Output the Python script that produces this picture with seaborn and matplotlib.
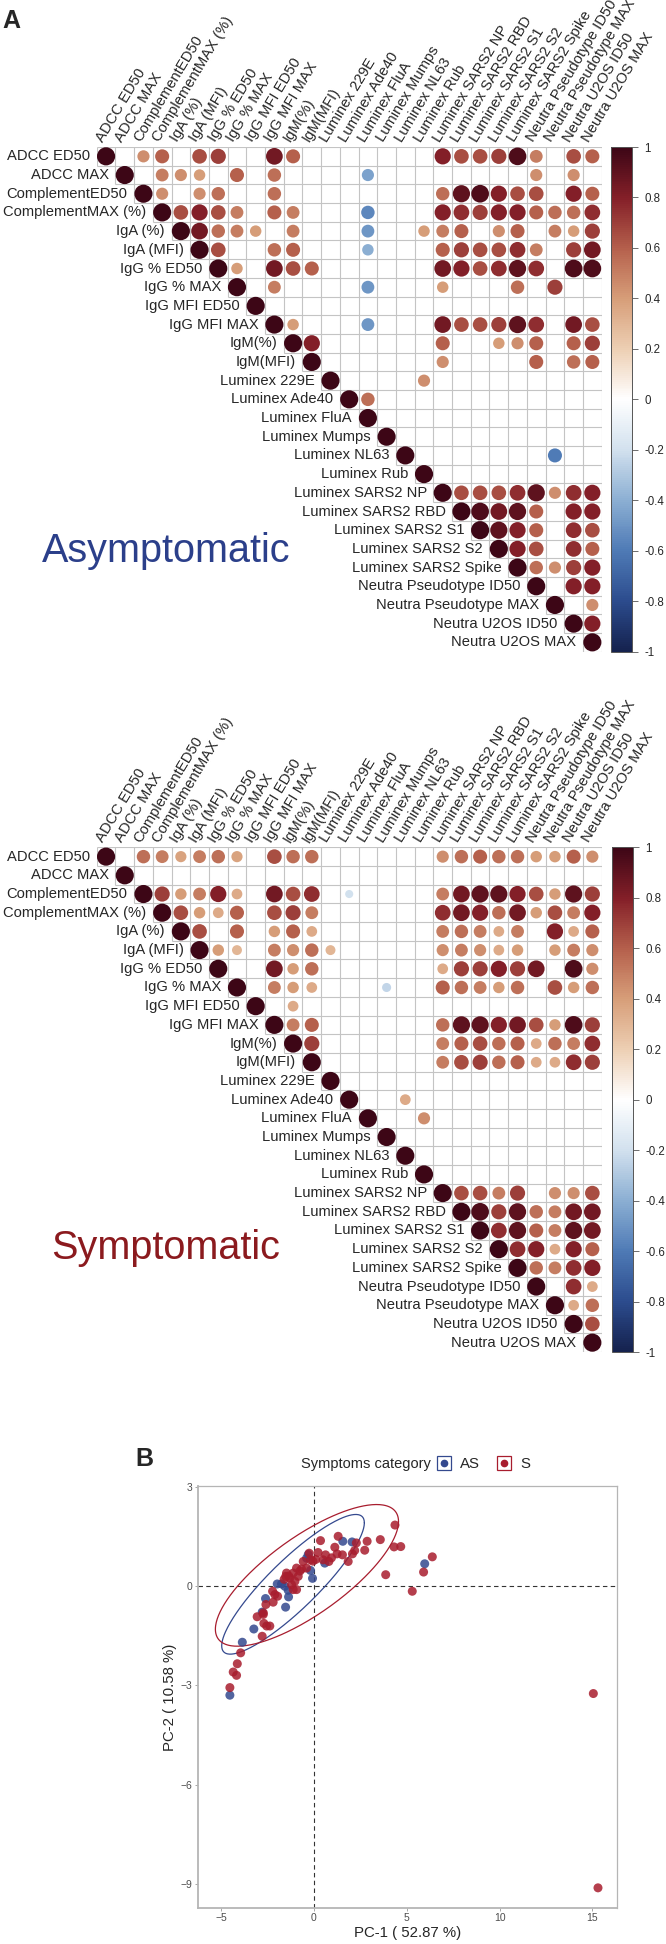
import numpy as np
import pandas as pd
import matplotlib
matplotlib.use("Agg")
import matplotlib.pyplot as plt
import seaborn as sns
from matplotlib.colors import LinearSegmentedColormap, Normalize
from matplotlib.cm import ScalarMappable
from matplotlib.lines import Line2D

# ---------------- data ----------------
VARIABLES = ["ADCC ED50", "ADCC MAX", "ComplementED50", "ComplementMAX (%)",
             "IgA (%)", "IgA (MFI)", "IgG % ED50", "IgG % MAX", "IgG MFI ED50",
             "IgG MFI MAX", "IgM(%)", "IgM(MFI)", "Luminex 229E", "Luminex Ade40",
             "Luminex FluA", "Luminex Mumps", "Luminex NL63", "Luminex Rub",
             "Luminex SARS2 NP", "Luminex SARS2 RBD", "Luminex SARS2 S1",
             "Luminex SARS2 S2", "Luminex SARS2 Spike", "Neutra Pseudotype ID50",
             "Neutra Pseudotype MAX", "Neutra U2OS ID50", "Neutra U2OS MAX"]

# Asymptomatic: significant upper-triangle correlations, per row (column index, r)
AS_COLS = [
    [2, 3, 5, 6, 9, 10, 18, 19, 20, 21, 22, 23, 25, 26],
    [3, 4, 5, 7, 9, 14, 23, 25],
    [3, 5, 6, 9, 18, 19, 20, 21, 22, 23, 25, 26],
    [4, 5, 6, 7, 9, 10, 14, 18, 19, 20, 21, 22, 23, 24, 25, 26],
    [5, 6, 7, 8, 10, 14, 17, 18, 19, 21, 22, 24, 25, 26],
    [6, 9, 10, 14, 18, 19, 20, 21, 22, 23, 25, 26],
    [7, 9, 10, 11, 18, 19, 20, 21, 22, 23, 25, 26],
    [9, 14, 18, 22, 24],
    [],
    [10, 14, 18, 19, 20, 21, 22, 23, 25, 26],
    [11, 18, 21, 22, 23, 25, 26],
    [18, 23, 25, 26],
    [17],
    [14],
    [],
    [],
    [24],
    [],
    [19, 20, 21, 22, 23, 24, 25, 26],
    [20, 21, 22, 23, 25, 26],
    [21, 22, 23, 25, 26],
    [22, 23, 25, 26],
    [23, 24, 25, 26],
    [25, 26],
    [26],
    [26],
    [],
]
AS_VALUES = [
    [.45, .6, .65, .7, .85, .6, .8, .65, .65, .7, .95, .5, .65, .6],
    [.5, .45, .4, .6, .55, -.45, .45, .45],
    [.45, .45, .55, .55, .55, .9, .95, .8, .65, .65, .8, .6],
    [.65, .8, .65, .5, .6, .5, -.55, .8, .75, .7, .8, .8, .6, .55, .55, .75],
    [.85, .55, .5, .4, .5, -.5, .4, .5, .6, .45, .6, .5, .4, .7],
    [.65, .55, .6, -.4, .6, .7, .65, .65, .75, .5, .7, .85],
    [.4, .85, .65, .6, .85, .8, .65, .75, .9, .75, .95, .95],
    [.5, -.5, .4, .55, .7],
    [],
    [.4, -.5, .85, .65, .65, .7, .9, .75, .85, .65],
    [.8, .6, .4, .45, .6, .6, .7],
    [.45, .6, .55, .6],
    [.45],
    [.55],
    [],
    [],
    [-.6],
    [],
    [.65, .65, .65, .75, .9, .45, .75, .8],
    [.95, .85, .9, .6, .8, .8],
    [.9, .8, .6, .75, .65],
    [.8, .65, .75, .6],
    [.55, .45, .7, .8],
    [.8, .8],
    [.45],
    [.8],
    [],
]

# Symptomatic
S_COLS = [
    [2, 3, 4, 5, 6, 7, 9, 10, 11, 18, 19, 20, 21, 22, 23, 24, 25, 26],
    [],
    [3, 4, 5, 6, 7, 9, 10, 11, 13, 18, 19, 20, 21, 22, 23, 24, 25, 26],
    [4, 5, 6, 7, 9, 10, 11, 18, 19, 20, 21, 22, 23, 24, 25, 26],
    [5, 7, 9, 10, 11, 18, 19, 20, 21, 22, 24, 25, 26],
    [6, 7, 9, 10, 11, 12, 18, 19, 20, 21, 22, 24, 25, 26],
    [9, 10, 11, 18, 19, 20, 21, 22, 23, 25, 26],
    [9, 10, 11, 15, 18, 19, 20, 21, 22, 24, 25, 26],
    [10],
    [10, 11, 18, 19, 20, 21, 22, 23, 24, 25, 26],
    [11, 18, 19, 20, 21, 22, 23, 24, 25, 26],
    [18, 19, 20, 21, 22, 23, 24, 25, 26],
    [],
    [16],
    [17],
    [],
    [],
    [],
    [19, 20, 21, 22, 24, 25, 26],
    [20, 21, 22, 23, 24, 25, 26],
    [21, 22, 23, 24, 25, 26],
    [22, 23, 24, 25, 26],
    [23, 24, 25, 26],
    [25, 26],
    [25, 26],
    [26],
    [],
]
S_VALUES = [
    [.55, .5, .38, .5, .55, .38, .65, .55, .55, .45, .55, .6, .55, .55, .4, .4, .6, .45],
    [],
    [.7, .4, .5, .8, .35, .85, .65, .75, -.2, .5, .85, .9, .9, .8, .65, .4, .9, .7],
    [.65, .4, .35, .6, .65, .7, .5, .75, .85, .8, .55, .85, .4, .65, .5, .8],
    [.65, .6, .4, .6, .35, .5, .55, .5, .35, .5, .8, .35, .6],
    [.4, .3, .5, .45, .55, .3, .45, .5, .45, .35, .4, .4, .5, .45],
    [.85, .4, .55, .35, .7, .7, .8, .7, .85, .95, .45],
    [.5, .4, .35, -.25, .6, .55, .5, .4, .55, .65, .4, .55],
    [.35],
    [.5, .6, .55, .9, .9, .8, .85, .65, .4, .95, .7],
    [.7, .5, .6, .65, .55, .6, .35, .55, .5, .75],
    [.5, .65, .7, .55, .6, .35, .35, .75, .7],
    [],
    [.35],
    [.45],
    [],
    [],
    [],
    [.65, .65, .5, .7, .45, .45, .65],
    [.95, .7, .9, .55, .5, .85, .85],
    [.75, .9, .6, .5, .9, .85],
    [.75, .8, .35, .8, .6],
    [.55, .5, .75, .8],
    [.75, .35],
    [.35, .55],
    [.65],
    [],
]

# PCA scores
PCA_S_X = [4.37, 3.58, 2.87, 2.74, 4.32, 4.68, 6.38, 5.91, 3.87, 5.30, 1.31, 0.36, 1.13,
           1.25, 1.54, 2.08, 2.29, 2.20, 1.85, 0.63, 0.81, 0.50, 0.23, -0.25, -0.18, -0.57,
           -0.39, -0.66, -0.93, -1.11, -1.47, -1.51, -1.29, -0.84, -1.02, -1.20, -0.93, -1.11,
           -2.22, -2.10, -1.95, -2.19, -2.58, -2.72, -3.05, -2.72, -2.69, -2.54, -2.37, -2.78,
           -3.94, -4.12, -4.34, -4.16, -4.52, 15.05, 15.3, -0.05, 0.10, -1.35, -0.75, -1.60, 0.95]
PCA_S_Y = [1.84, 1.40, 1.35, 1.08, 1.18, 1.19, 0.88, 0.42, 0.34, -0.16, 1.50, 1.37, 1.17,
           0.97, 0.94, 0.97, 1.30, 1.07, 0.74, 0.94, 0.74, 0.79, 1.01, 0.99, 0.79, 0.74,
           0.54, 0.51, 0.54, 0.39, 0.39, 0.29, 0.24, 0.29, 0.14, 0.04, -0.11, -0.11,
           -0.16, -0.26, -0.31, -0.49, -0.56, -0.81, -0.93, -0.86, -1.13, -1.21, -1.21, -1.52,
           -2.02, -2.35, -2.60, -2.70, -3.07, -3.25, -9.12, 0.75, 0.80, 0.30, 0.45, 0.20, 0.85]
PCA_AS_X = [1.56, 2.06, -0.39, -0.18, -0.07, -1.97, -1.74, -1.56, -1.38, -1.36, -1.52,
            -2.60, -2.78, -3.23, -3.85, -4.52, 5.97, 0.59, -0.30]
PCA_AS_Y = [1.35, 1.33, 0.84, 0.47, 0.23, 0.06, 0.06, -0.01, -0.13, -0.33, -0.64,
            -0.38, -0.79, -1.30, -1.70, -3.30, 0.67, 0.69, 0.95]

# 95% ellipses: centre, half extents along PC1/PC2, correlation
ELL_AS = dict(cx=-1.12, cy=0.05, a=3.84, b=2.11, rho=0.88)
ELL_S = dict(cx=-0.37, cy=0.32, a=4.93, b=2.14, rho=0.76)

GROUPS = ["AS", "S"]
GROUP_COLORS = {"AS": "#34498E", "S": "#A81D2E"}

# ---------------- style ----------------
sns.set_theme(style="white")
plt.rcParams["font.family"] = ["Liberation Sans", "DejaVu Sans"]

CMAP = LinearSegmentedColormap.from_list("corr", [
    (0.0, "#15224E"), (0.1, "#2C4C8E"), (0.2, "#4F7BB6"), (0.3, "#8CAFD3"),
    (0.4, "#D2E1EE"), (0.5, "#FFFFFF"), (0.6, "#EDCFB3"), (0.7, "#D79E79"),
    (0.8, "#B5604C"), (0.9, "#841F28"), (1.0, "#3D0616")])

W, H = 666, 1944
fig = plt.figure(figsize=(W / 100, H / 100), dpi=100)


def rect(l, t, r, b):
    return [l / W, 1 - b / H, (r - l) / W, (b - t) / H]


N = len(VARIABLES)
CELL_PT = 18.7 * 72 / 100
SMAX = (0.97 * CELL_PT) ** 2
GRID = "#c4c4c4"
LABEL_SIZE = 10.6


def draw_corr(ax, cols, vals):
    rr, cc, vv = [], [], []
    for i in range(N):
        rr.append(i); cc.append(i); vv.append(1.0)
        for j, v in zip(cols[i], vals[i]):
            rr.append(i); cc.append(j); vv.append(v)
    df = pd.DataFrame({"row": rr, "col": cc, "r": vv})
    df["x"] = df["col"] + 0.5
    df["y"] = df["row"] + 0.5
    df["mag"] = df["r"].abs()
    for k in range(N + 1):
        ax.hlines(k, max(k - 1, 0), N, color=GRID, lw=0.8, zorder=1)
        ax.vlines(k, 0, min(k + 1, N), color=GRID, lw=0.8, zorder=1)
    sns.scatterplot(data=df, x="x", y="y", hue="r", size="mag", palette=CMAP,
                    hue_norm=(-1, 1), sizes=(0, SMAX), size_norm=(0, 1),
                    legend=False, edgecolor="none", linewidth=0, ax=ax, zorder=3)
    ax.set_xlim(0, N)
    ax.set_ylim(N, 0)
    ax.axis("off")
    for i, name in enumerate(VARIABLES):
        ax.text(i - 0.35, i + 0.5, name, ha="right", va="center", fontsize=LABEL_SIZE)
        ax.text(i + 0.33, -0.22, name, ha="left", va="baseline", rotation=59,
                rotation_mode="anchor", fontsize=LABEL_SIZE)


def draw_cbar(cax):
    cb = fig.colorbar(ScalarMappable(norm=Normalize(-1, 1), cmap=CMAP), cax=cax)
    ticks = np.round(np.arange(-1, 1.01, 0.2), 1)
    cb.set_ticks(ticks)
    cb.set_ticklabels([("%g" % t) if abs(t) > 1e-9 else "0" for t in ticks])
    cb.outline.set_linewidth(0.7)
    cb.outline.set_edgecolor("#555555")
    cax.tick_params(axis="y", length=4, width=0.6, color="#555555", labelsize=8.3,
                    pad=5, right=True)


ax_top = fig.add_axes(rect(96.7, 147, 601.7, 651.7))
draw_corr(ax_top, AS_COLS, AS_VALUES)
draw_cbar(fig.add_axes(rect(611, 147, 632, 651.7)))

ax_bot = fig.add_axes(rect(96.7, 847.3, 601.7, 1352))
draw_corr(ax_bot, S_COLS, S_VALUES)
draw_cbar(fig.add_axes(rect(612, 847.3, 633, 1352)))

fig.text(166 / W, 1 - 561.7 / H, "Asymptomatic", ha="center", va="baseline",
         fontsize=28.5, color="#2B3F8A")
fig.text(166 / W, 1 - 1259.3 / H, "Symptomatic", ha="center", va="baseline",
         fontsize=28.5, color="#8B1A1E")
fig.text(2 / W, 1 - 28.5 / H, "A", ha="left", va="baseline", fontsize=18, fontweight="bold")
fig.text(153 / W, 1 - 1466 / H, "B", ha="right", va="baseline", fontsize=18, fontweight="bold")

# ---------------- PCA ----------------
axp = fig.add_axes(rect(198.3, 1486, 617.3, 1907.7))
pca = pd.concat([
    pd.DataFrame({"PC1": PCA_AS_X, "PC2": PCA_AS_Y, "group": "AS"}),
    pd.DataFrame({"PC1": PCA_S_X, "PC2": PCA_S_Y, "group": "S"}),
], ignore_index=True)
sns.scatterplot(data=pca, x="PC1", y="PC2", hue="group", hue_order=GROUPS,
                palette=GROUP_COLORS, s=42, alpha=0.85, edgecolor="none",
                legend=False, ax=axp, zorder=3)
t = np.linspace(0, 2 * np.pi, 300)
for g, e in (("AS", ELL_AS), ("S", ELL_S)):
    ex = e["cx"] + e["a"] * np.cos(t)
    ey = e["cy"] + e["b"] * (e["rho"] * np.cos(t) + np.sqrt(1 - e["rho"] ** 2) * np.sin(t))
    axp.plot(ex, ey, color=GROUP_COLORS[g], lw=0.9, zorder=2)
axp.axhline(0, ls=(0, (4, 3)), color="#333333", lw=0.8, zorder=1)
axp.axvline(0, ls=(0, (4, 3)), color="#333333", lw=0.8, zorder=1)
axp.set_xlim(-6.22, 16.34)
axp.set_ylim(-9.72, 3.02)
axp.set_xticks([-5, 0, 5, 10, 15])
axp.set_yticks([-9, -6, -3, 0, 3])
axp.tick_params(axis="both", length=2.5, width=0.6, color="#999999", labelsize=7.5,
                labelcolor="#4d4d4d", pad=1.5, bottom=True, left=True)
for side, sp in axp.spines.items():
    sp.set_color("#b5b5b5")
    sp.set_linewidth(1.3 if side in ("left", "bottom") else 0.9)
axp.set_xlabel("PC-1 ( 52.87 %)", fontsize=10.8, labelpad=2)
axp.set_ylabel("PC-2 ( 10.58 %)", fontsize=10.8, labelpad=3)

fig.text(431 / W, 1 - 1464 / H, "Symptoms category", ha="right", va="center", fontsize=10.5)
handles = [(Line2D([], [], marker="s", ms=10, mfc="none", mec=GROUP_COLORS[g], mew=0.9, ls=""),
            Line2D([], [], marker="o", ms=4.5, color=GROUP_COLORS[g], ls=""))
           for g in GROUPS]
fig.legend(handles, GROUPS, ncol=2, loc="center left", bbox_to_anchor=(436 / W, 1 - 1464 / H),
           frameon=False, handlelength=1.0, handletextpad=0.6, columnspacing=1.1,
           borderpad=0, borderaxespad=0, fontsize=10.8)

fig.savefig("out.png", dpi=100)
